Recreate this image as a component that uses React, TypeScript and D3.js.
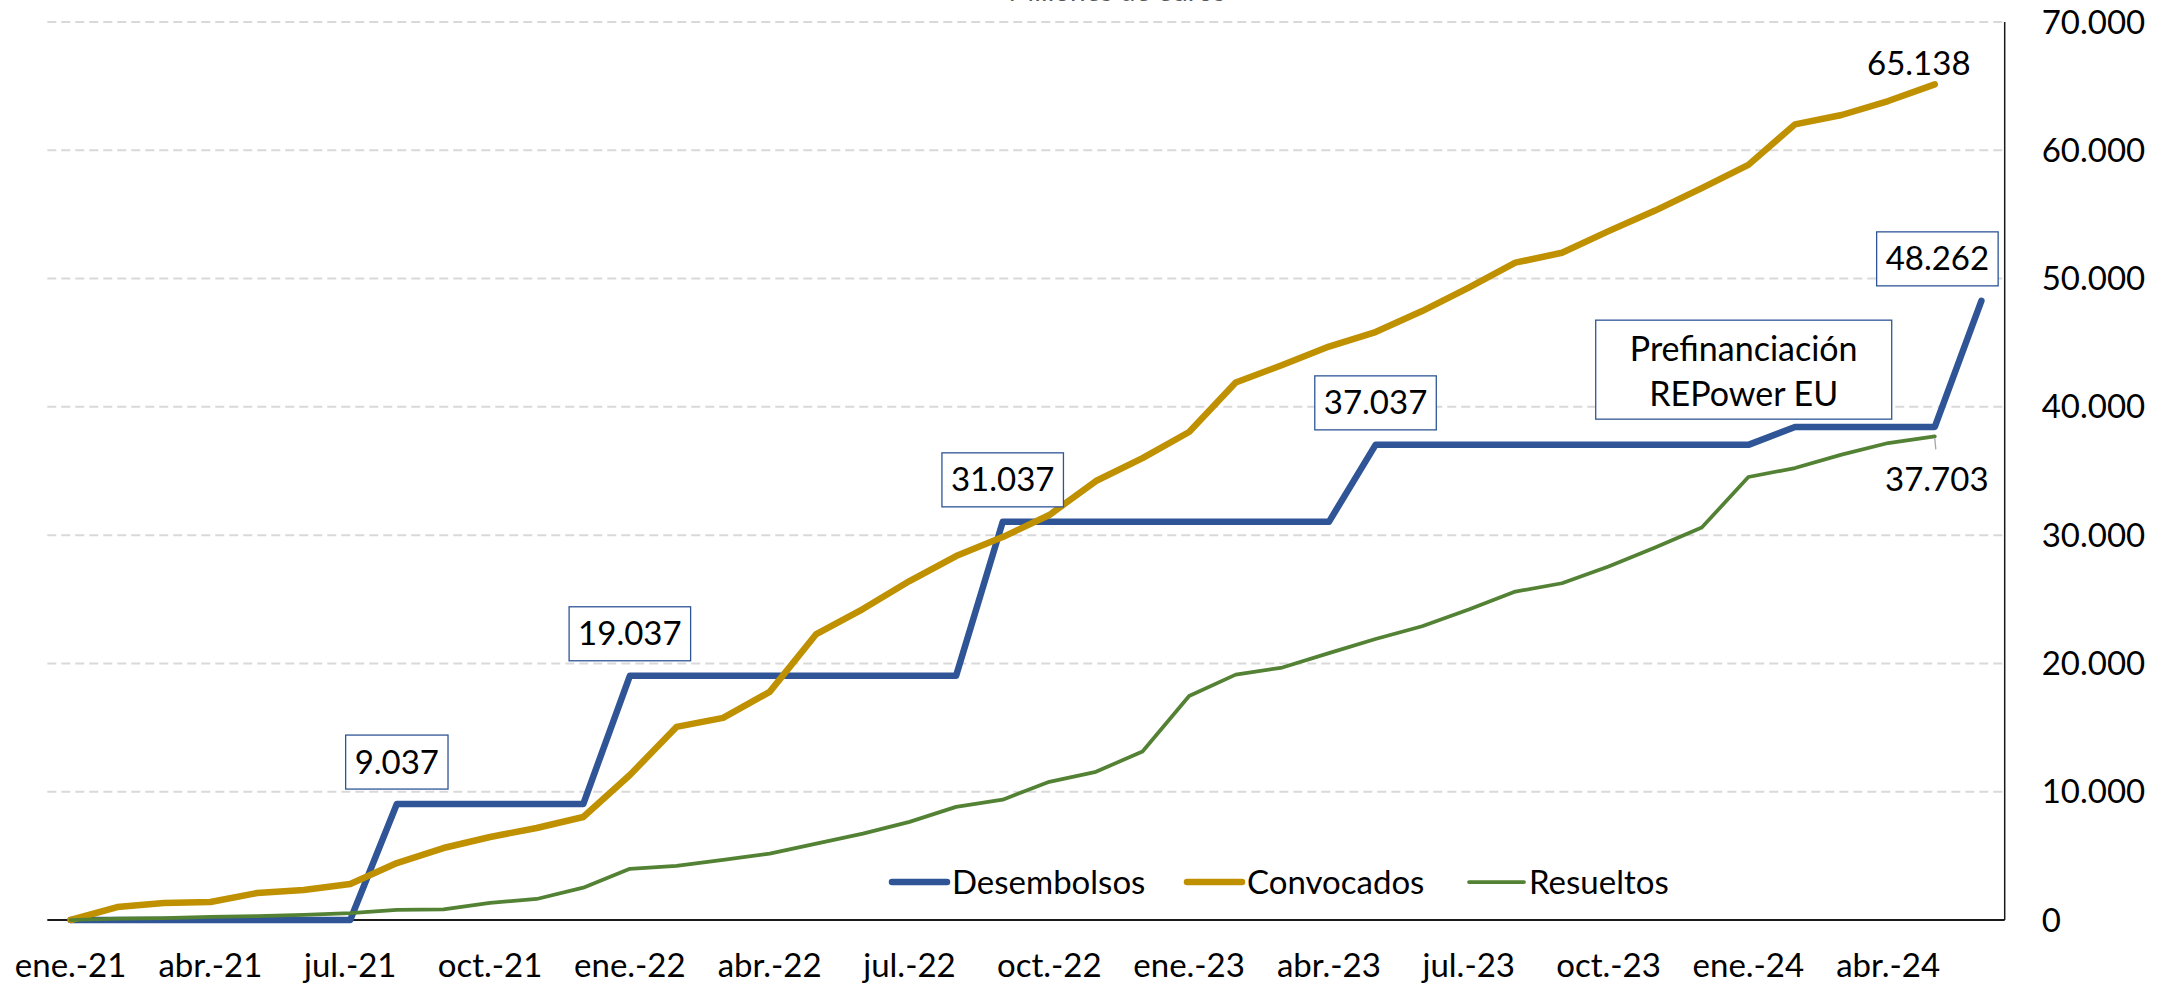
import React, { useEffect, useRef } from "react";
import * as d3 from "d3";

const MONTHS = ["ene", "feb", "mar", "abr", "may", "jun", "jul", "ago", "sep", "oct", "nov", "dic"];
const categories: string[] = [];
for (let yy = 21; yy <= 24; yy++) {
  for (let mm = 0; mm < 12; mm++) {
    if (yy === 24 && mm > 5) break;
    categories.push(`${MONTHS[mm]}.-${yy}`);
  }
}
const tickCategoryIdx = [0, 3, 6, 9, 12, 15, 18, 21, 24, 27, 30, 33, 36, 39];

const desembolsos = [
  0, 0, 0, 0, 0, 0, 0,
  9037, 9037, 9037, 9037, 9037,
  19037, 19037, 19037, 19037, 19037, 19037, 19037, 19037,
  31037, 31037, 31037, 31037, 31037, 31037, 31037, 31037,
  37037, 37037, 37037, 37037, 37037, 37037, 37037, 37037, 37037,
  38437, 38437, 38437, 38437,
  48262,
];
const convocados = [
  0, 1010, 1330, 1400, 2100, 2340, 2800, 4440, 5610, 6470, 7170, 8030,
  11300, 15050, 15760, 17780, 22290, 24240, 26420, 28370, 29850, 31570, 34220, 36010,
  38040, 41900, 43260, 44700, 45830, 47470, 49300, 51240, 52010, 53700, 55300, 57050,
  58860, 62020, 62750, 63840, 65138,
];
const resueltos = [
  0, 100, 150, 250, 300, 400, 530, 780, 830, 1330, 1640, 2520,
  3990, 4220, 4680, 5170, 5950, 6730, 7650, 8820, 9380, 10770, 11550, 13140,
  17460, 19130, 19680, 20800, 21900, 22900, 24200, 25600, 26250, 27550, 29040, 30590,
  34530, 35230, 36280, 37180, 37703,
];
const yTicks = [0, 10000, 20000, 30000, 40000, 50000, 60000, 70000];

const seriesNames = ["Desembolsos", "Convocados", "Resueltos"];
const seriesColors = ["#2F5597", "#BF9000", "#548235"];
const seriesWidths = [6.5, 6.5, 3.75];

const boxedLabelIdx = [7, 12, 20, 28, 41];
const annotationLines = ["Prefinanciación", "REPower EU"];
const annotationAnchor = { month: 35.9, value: 42900 };

const W = 2172;
const H = 987;
const FONT = "Lato, 'Open Sans', sans-serif";

export default function App() {
  const ref = useRef<SVGSVGElement | null>(null);

  useEffect(() => {
    const svg = d3.select(ref.current);
    svg.selectAll("*").remove();

    const loc = d3.formatLocale({ decimal: ",", thousands: ".", grouping: [3], currency: ["", " €"] });
    const fmt = (v: number) => (v === 0 ? "0" : loc.format(",.0f")(v));

    const x = d3.scaleLinear().domain([-0.5, 41.5]).range([47.3, 2004.7]);
    const y = d3.scaleLinear().domain([0, 70000]).range([920, 22]);

    svg.append("rect").attr("width", W).attr("height", H).attr("fill", "#fff");

    // title (cut off at top, as in the reference)
    svg.append("text")
      .attr("x", 1117).attr("y", 1)
      .attr("text-anchor", "middle")
      .attr("font-family", FONT).attr("font-size", 28)
      .attr("fill", "#595959")
      .text("Millones de euros");

    // gridlines
    svg.append("g").selectAll("line")
      .data(yTicks.filter((t) => t > 0))
      .join("line")
      .attr("x1", x(-0.5)).attr("x2", x(41.5))
      .attr("y1", (d) => y(d)).attr("y2", (d) => y(d))
      .attr("stroke", "#D9D9D9").attr("stroke-width", 2)
      .attr("stroke-dasharray", "9 5");

    // axes lines
    svg.append("line")
      .attr("x1", x(-0.5)).attr("x2", x(41.5))
      .attr("y1", y(0)).attr("y2", y(0))
      .attr("stroke", "#1a1a1a").attr("stroke-width", 2);
    svg.append("line")
      .attr("x1", x(41.5)).attr("x2", x(41.5))
      .attr("y1", y(70000)).attr("y2", y(0))
      .attr("stroke", "#1a1a1a").attr("stroke-width", 1.5);

    // y tick labels
    svg.append("g").selectAll("text")
      .data(yTicks)
      .join("text")
      .attr("x", x(41.5) + 37)
      .attr("y", (d) => y(d) + 11.5)
      .attr("font-family", FONT).attr("font-size", 33)
      .attr("fill", "#000")
      .text((d) => fmt(d));

    // x tick labels
    svg.append("g").selectAll("text")
      .data(tickCategoryIdx)
      .join("text")
      .attr("x", (d) => x(d))
      .attr("y", 977)
      .attr("text-anchor", "middle")
      .attr("font-family", FONT).attr("font-size", 33)
      .attr("fill", "#000")
      .text((d) => categories[d]);

    // lines
    const allSeries = [desembolsos, convocados, resueltos];
    const line = d3.line<number>().x((_, i) => x(i)).y((d) => y(d));
    allSeries.forEach((s, k) => {
      svg.append("path")
        .attr("d", line(s) || "")
        .attr("fill", "none")
        .attr("stroke", seriesColors[k])
        .attr("stroke-width", seriesWidths[k])
        .attr("stroke-linejoin", "round")
        .attr("stroke-linecap", "round");
    });

    // boxed data labels for Desembolsos
    boxedLabelIdx.forEach((i) => {
      const v = desembolsos[i];
      const g = svg.append("g");
      const cx = i === 41 ? x(i) - 44 : x(i);
      const bottom = y(v) - 15;
      const cy = bottom - 27;
      const t = g.append("text")
        .attr("x", cx).attr("y", cy + 11.5)
        .attr("text-anchor", "middle")
        .attr("font-family", FONT).attr("font-size", 33)
        .attr("fill", "#000")
        .text(fmt(v));
      const tw = (t.node() as SVGTextElement).getComputedTextLength();
      const bw = tw + 18;
      g.insert("rect", "text")
        .attr("x", cx - bw / 2).attr("y", bottom - 54)
        .attr("width", bw).attr("height", 54)
        .attr("fill", "#fff")
        .attr("stroke", "#2F5597").attr("stroke-width", 1.3);
    });

    // annotation box
    {
      const acx = x(annotationAnchor.month);
      const acy = y(annotationAnchor.value);
      const g = svg.append("g");
      g.append("rect")
        .attr("x", acx - 148).attr("y", acy - 49.5)
        .attr("width", 296).attr("height", 99)
        .attr("fill", "#fff")
        .attr("stroke", "#2F5597").attr("stroke-width", 1.3);
      annotationLines.forEach((l, j) => {
        g.append("text")
          .attr("x", acx).attr("y", acy - 8.5 + j * 45)
          .attr("text-anchor", "middle")
          .attr("font-family", FONT).attr("font-size", 34)
          .attr("fill", "#000")
          .text(l);
      });
    }

    // end labels
    const lastC = convocados.length - 1;
    svg.append("text")
      .attr("x", x(lastC) - 16).attr("y", y(convocados[lastC]) - 9)
      .attr("text-anchor", "middle")
      .attr("font-family", FONT).attr("font-size", 33)
      .attr("fill", "#000")
      .text(fmt(convocados[lastC]));

    const lastR = resueltos.length - 1;
    svg.append("line")
      .attr("x1", x(lastR)).attr("y1", y(resueltos[lastR]) + 2)
      .attr("x2", x(lastR) + 1).attr("y2", y(resueltos[lastR]) + 13)
      .attr("stroke", "#A6A6A6").attr("stroke-width", 1.3);
    svg.append("text")
      .attr("x", x(lastR) + 2).attr("y", y(resueltos[lastR]) + 55)
      .attr("text-anchor", "middle")
      .attr("font-family", FONT).attr("font-size", 33)
      .attr("fill", "#000")
      .text(fmt(resueltos[lastR]));

    // legend
    const legendX = [892, 1187, 1469];
    const legendY = 882;
    seriesNames.forEach((n, k) => {
      svg.append("line")
        .attr("x1", legendX[k]).attr("x2", legendX[k] + 55)
        .attr("y1", legendY).attr("y2", legendY)
        .attr("stroke", seriesColors[k])
        .attr("stroke-width", seriesWidths[k])
        .attr("stroke-linecap", "round");
      svg.append("text")
        .attr("x", legendX[k] + 60).attr("y", legendY + 11.5)
        .attr("font-family", FONT).attr("font-size", 33)
        .attr("fill", "#000")
        .text(n);
    });
  }, []);

  return (
    <svg
      ref={ref}
      width={W}
      height={H}
      style={{ position: "absolute", left: 0, top: 0, display: "block" }}
    />
  );
}
